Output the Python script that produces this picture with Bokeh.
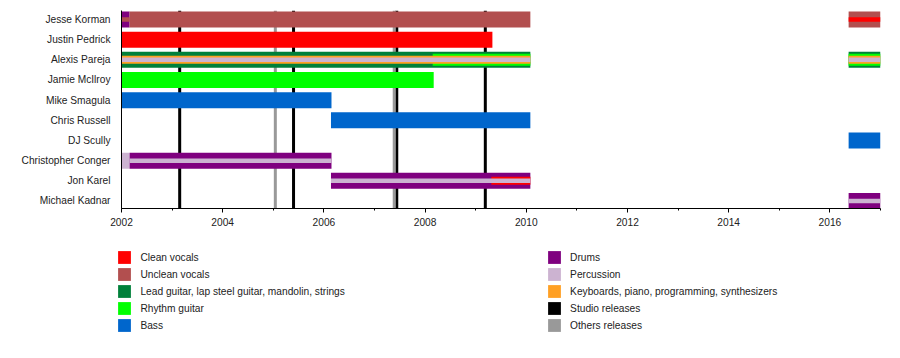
from bokeh.plotting import figure
from bokeh.models import Range1d, FixedTicker, Span, Legend, LegendItem, ColumnDataSource
from bokeh.embed import file_html
from bokeh.resources import INLINE

# ---------------- data ----------------
members = ["Jesse Korman", "Justin Pedrick", "Alexis Pareja", "Jamie McIlroy",
           "Mike Smagula", "Chris Russell", "DJ Scully", "Christopher Conger",
           "Jon Karel", "Michael Kadnar"]

roles = ["Clean vocals", "Unclean vocals",
         "Lead guitar, lap steel guitar, mandolin, strings", "Rhythm guitar", "Bass",
         "Drums", "Percussion", "Keyboards, piano, programming, synthesizers"]
role_colors = ["#ff0000", "#b24f4f", "#00803a", "#00ff00", "#0066cc",
               "#7f007f", "#ccb3d1", "#ffa024"]

release_kinds = ["Studio releases", "Others releases"]
release_colors = ["#000000", "#999999"]
studio_years = [2003.15, 2005.40, 2007.44, 2009.19]
other_years = [2005.04, 2007.39]

seg_member = [
    "Jesse Korman", "Jesse Korman", "Jesse Korman", "Jesse Korman", "Jesse Korman",
    "Justin Pedrick",
    "Alexis Pareja", "Alexis Pareja", "Alexis Pareja", "Alexis Pareja",
    "Alexis Pareja", "Alexis Pareja", "Alexis Pareja", "Alexis Pareja",
    "Jamie McIlroy",
    "Mike Smagula",
    "Chris Russell",
    "DJ Scully",
    "Christopher Conger", "Christopher Conger", "Christopher Conger",
    "Jon Karel", "Jon Karel", "Jon Karel",
    "Michael Kadnar", "Michael Kadnar",
]
seg_role = [
    "Drums", "Unclean vocals", "Unclean vocals", "Unclean vocals", "Clean vocals",
    "Clean vocals",
    "Lead guitar, lap steel guitar, mandolin, strings", "Rhythm guitar",
    "Keyboards, piano, programming, synthesizers", "Percussion",
    "Lead guitar, lap steel guitar, mandolin, strings", "Rhythm guitar",
    "Keyboards, piano, programming, synthesizers", "Percussion",
    "Rhythm guitar",
    "Bass",
    "Bass",
    "Bass",
    "Percussion", "Drums", "Percussion",
    "Drums", "Clean vocals", "Percussion",
    "Drums", "Percussion",
]
seg_start = [
    2002.00, 2002.00, 2002.16, 2016.37, 2016.37,
    2002.00,
    2002.00, 2008.15, 2002.00, 2002.00,
    2016.37, 2016.37, 2016.37, 2016.37,
    2002.00,
    2002.00,
    2006.14,
    2016.37,
    2002.00, 2002.16, 2002.16,
    2006.14, 2009.31, 2006.14,
    2016.37, 2016.37,
]
seg_end = [
    2002.16, 2002.16, 2010.08, 2017.00, 2017.00,
    2009.33,
    2010.08, 2010.08, 2010.08, 2010.08,
    2017.00, 2017.00, 2017.00, 2017.00,
    2008.17,
    2006.15,
    2010.08,
    2017.00,
    2002.16, 2006.15, 2006.15,
    2010.08, 2010.08, 2010.08,
    2017.00, 2017.00,
]
# 0 = main bar, 1..3 = progressively thinner overlays
seg_layer = [
    0, 3, 0, 0, 3,
    0,
    0, 1, 2, 3,
    0, 1, 2, 3,
    0,
    0,
    0,
    0,
    0, 0, 3,
    0, 2, 3,
    0, 3,
]

year_ticks = [2002, 2004, 2006, 2008, 2010, 2012, 2014, 2016]
year_minor = list(range(2002, 2018))

# ---------------- styling ----------------
FONT = "Liberation Sans"
FS = "10.2px"
TXT = "#222222"
Y0, Y1 = -0.372, 9.446
FRAME_H = 198
px_unit = FRAME_H / (Y1 - Y0)
layer_px = [16, 12, 8, 4.5]

color_of = dict(zip(roles, role_colors))
n = len(members)
data = dict(
    y=[n - 1 - members.index(m) for m in seg_member],
    left=seg_start, right=seg_end,
    h=[layer_px[l] / px_unit for l in seg_layer],
    color=[color_of[r] for r in seg_role],
)

p = figure(width=884, height=238, output_backend="svg", toolbar_location=None,
           x_range=Range1d(2002, 2017), y_range=Range1d(Y0, Y1),
           min_border_left=121, min_border_right=4, min_border_top=10,
           min_border_bottom=30)
p.outline_line_color = None
p.xgrid.visible = False
p.ygrid.visible = False

for yr in studio_years:
    p.add_layout(Span(location=yr, dimension="height", line_color=release_colors[0],
                      line_width=3, level="underlay"))
for yr in other_years:
    p.add_layout(Span(location=yr, dimension="height", line_color=release_colors[1],
                      line_width=3, level="underlay"))

for L in range(4):
    idx = [i for i, l in enumerate(seg_layer) if l == L]
    sub = ColumnDataSource({k: [v[i] for i in idx] for k, v in data.items()})
    p.hbar(y="y", left="left", right="right", height="h", fill_color="color",
           line_color=None, source=sub)

p.xaxis.ticker = FixedTicker(ticks=year_ticks, minor_ticks=year_minor)
p.xaxis.major_tick_in = 0
p.xaxis.major_tick_out = 4
p.xaxis.minor_tick_in = 0
p.xaxis.minor_tick_out = 2
p.xaxis.major_label_standoff = 5
p.xaxis.axis_line_color = "black"
p.xaxis.major_tick_line_color = "black"
p.xaxis.minor_tick_line_color = "black"
p.xaxis.major_label_text_font = FONT
p.xaxis.major_label_text_font_size = FS
p.xaxis.major_label_text_color = TXT

p.yaxis.ticker = FixedTicker(ticks=list(range(n)), minor_ticks=[])
p.yaxis.major_label_overrides = {n - 1 - i: m for i, m in enumerate(members)}
p.yaxis.major_tick_in = 0
p.yaxis.major_tick_out = 0
p.yaxis.minor_tick_in = 0
p.yaxis.minor_tick_out = 0
p.yaxis.major_label_standoff = 11
p.yaxis.axis_line_color = "black"
p.yaxis.major_label_text_font = FONT
p.yaxis.major_label_text_font_size = FS
p.yaxis.major_label_text_color = TXT

# ---------------- legend panel (separate root, not frame-aligned) ----------------
q = figure(width=884, height=104, output_backend="svg", toolbar_location=None,
           x_range=Range1d(0, 1), y_range=Range1d(0, 1),
           x_axis_location=None, y_axis_location=None, min_border=0)
q.outline_line_color = None
q.xgrid.visible = False
q.ygrid.visible = False

legend_names = roles[:5] + roles[5:7] + [roles[7]] + release_kinds
legend_cols = role_colors[:5] + role_colors[5:7] + [role_colors[7]] + release_colors
items = []
for name, c in zip(legend_names, legend_cols):
    r = q.quad(left=[5], right=[6], top=[6], bottom=[5], fill_color=c, line_color=None)
    items.append(LegendItem(label=name, renderers=[r]))

for chunk, loc in ((items[:5], (116.4, 8.7)), (items[5:], (546.1, 8.7))):
    leg = Legend(items=chunk, location=loc, glyph_width=16, glyph_height=16,
                 label_height=16, spacing=1, label_standoff=8, padding=0, margin=0,
                 border_line_color=None, background_fill_alpha=0,
                 label_text_font=FONT, label_text_font_size=FS,
                 label_text_color=TXT)
    q.add_layout(leg)

open("out.html", "w").write(file_html([p, q], INLINE))
